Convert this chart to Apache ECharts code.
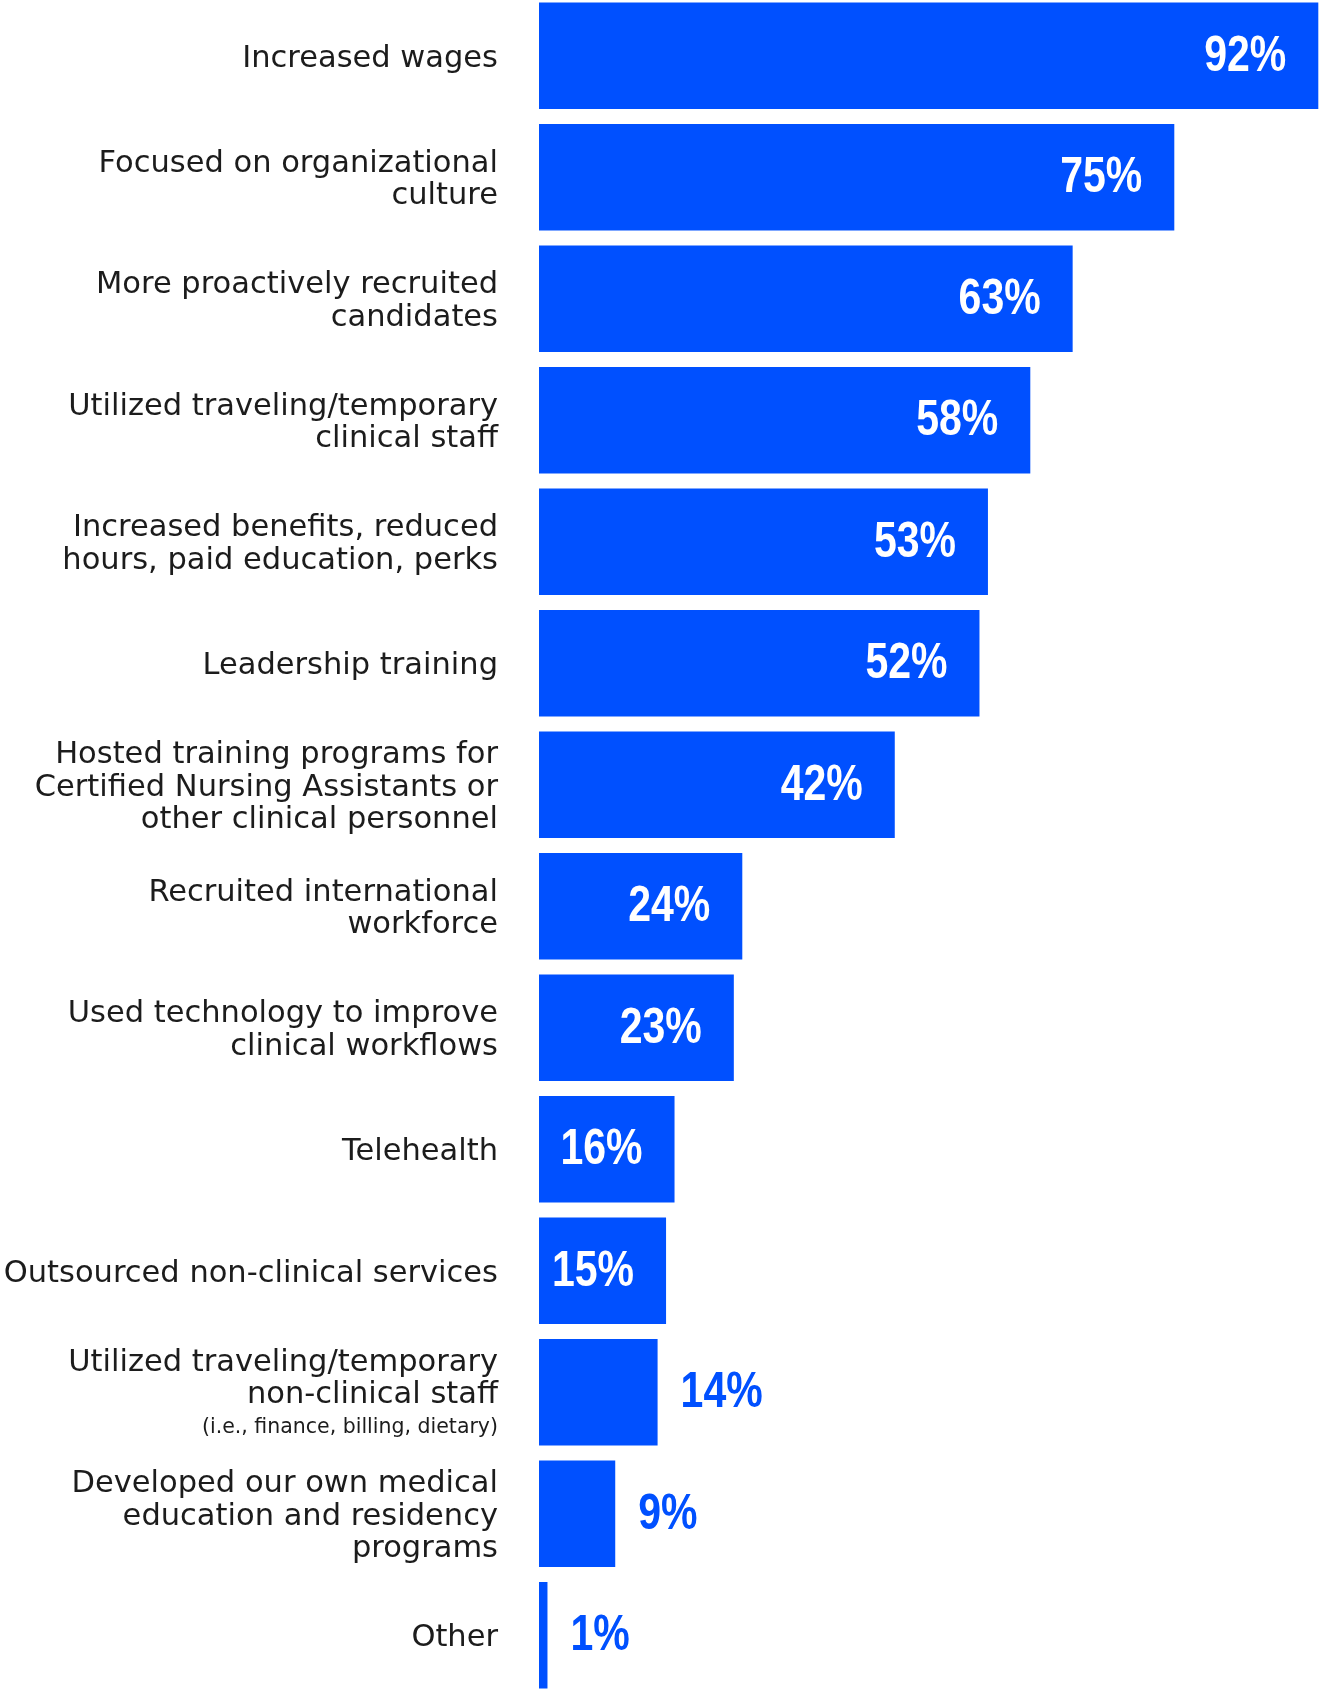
<!DOCTYPE html>
<html>
<head>
<meta charset="utf-8">
<title>Workforce strategies</title>
<script src="https://cdn.jsdelivr.net/npm/echarts@6/dist/echarts.min.js"></script>
<style>
  html, body { margin: 0; padding: 0; background: #ffffff; }
  #chart { width: 1320px; height: 1689px; }
</style>
</head>
<body>
<div id="chart"></div>
<script>
// Strategy labels (top to bottom); "\n" marks the line breaks of each label
const categories = [
  'Increased wages',
  'Focused on organizational\nculture',
  'More proactively recruited\ncandidates',
  'Utilized traveling/temporary\nclinical staff',
  'Increased benefits, reduced\nhours, paid education, perks',
  'Leadership training',
  'Hosted training programs for\nCertified Nursing Assistants or\nother clinical personnel',
  'Recruited international\nworkforce',
  'Used technology to improve\nclinical workflows',
  'Telehealth',
  'Outsourced non-clinical services',
  'Utilized traveling/temporary\nnon-clinical staff\n{note|(i.e., finance, billing, dietary)}',
  'Developed our own medical\neducation and residency\nprograms',
  'Other'
];

// Share of respondents (%)
const values = [92, 75, 63, 58, 53, 52, 42, 24, 23, 16, 15, 14, 9, 1];

// Values at or above this are labelled inside the bar
const insideThreshold = 15;

const BLUE = '#0050ff';
const TEXT = '#1c1c1c';
const labelFont = '"DejaVu Sans", "Noto Sans", sans-serif';
const valueFont = '"Liberation Sans", Arial, sans-serif';

const chart = echarts.init(document.getElementById('chart'), null, { renderer: 'canvas' });

// Percentage labels: a narrow, heavy figure style, placed from the bar end
function renderValueLabel(params, api) {
  const v = api.value(0);
  const end = api.coord([v, api.value(1)]);
  const inside = v >= insideThreshold;
  return {
    type: 'text',
    x: inside ? end[0] - 32 : end[0] + 23,
    y: end[1] + 1,
    scaleX: 0.82,
    style: {
      text: v + '%',
      fill: inside ? '#ffffff' : BLUE,
      fontFamily: valueFont,
      fontWeight: 'bold',
      fontSize: 50,
      align: inside ? 'right' : 'left',
      verticalAlign: 'middle'
    }
  };
}

chart.setOption({
  backgroundColor: '#ffffff',
  animation: false,
  grid: {
    left: 539,
    right: 0,
    top: -5,
    bottom: -7,
    containLabel: false,
    outerBoundsMode: 'none'
  },
  xAxis: {
    type: 'value',
    min: 0,
    max: 92.2,
    show: false
  },
  yAxis: {
    type: 'category',
    data: categories,
    inverse: true,
    axisLine: { show: false },
    axisTick: { show: false },
    splitLine: { show: false },
    axisLabel: {
      margin: 41,
      align: 'right',
      color: TEXT,
      fontFamily: labelFont,
      fontSize: 30.5,
      lineHeight: 32.5,
      padding: [6, 0, 0, 0],
      rich: {
        note: {
          fontFamily: labelFont,
          fontSize: 20.5,
          lineHeight: 32.5,
          color: TEXT
        }
      }
    }
  },
  series: [
    {
      type: 'bar',
      data: values,
      barCategoryGap: '12.3%',
      itemStyle: { color: BLUE },
      label: { show: false }
    },
    {
      type: 'custom',
      data: values.map((v, i) => [v, i]),
      encode: { x: 0, y: 1 },
      renderItem: renderValueLabel,
      z: 10,
      silent: true
    }
  ]
});
</script>
</body>
</html>
